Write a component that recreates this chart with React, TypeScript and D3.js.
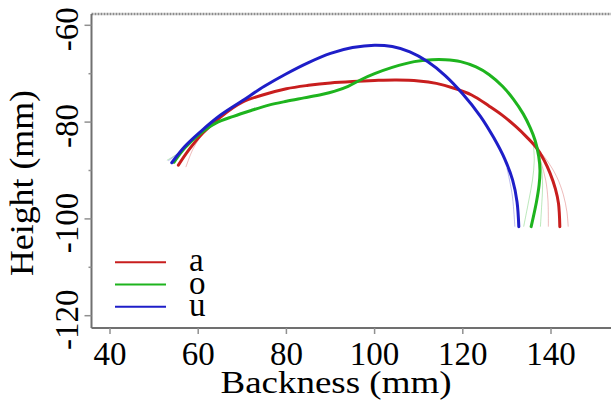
import React, { useEffect, useRef } from "react"
import * as d3 from "d3"

type Pt = [number, number]

const vowels = ["a", "o", "u"]
const colors = ["#c81e1e", "#1eb41e", "#1e1ec8"]

// mean tongue contours, [backness, height] in mm
const aCurve: Pt[] = [
  [55.5, -88.9], [58, -85.6], [61, -82.3], [65, -79], [70, -75.9], [75, -74.3],
  [80, -73.1], [85, -72.4], [90, -71.9], [95, -71.6], [100, -71.4], [105, -71.3],
  [110, -71.5], [114, -72], [118, -73], [122, -74.4], [126, -76.7], [129, -78.6],
  [132, -80.9], [134.5, -83.1], [136.7, -85.3], [138.5, -88], [139.8, -90.6],
  [141, -93.8], [141.7, -96.8], [142, -101.6],
]
const oCurve: Pt[] = [
  [54.5, -88.3], [57, -85.3], [60.4, -82.4], [64, -80.2], [68, -78.8], [72, -77.6],
  [76, -76.5], [80, -75.7], [84, -75], [88, -74.3], [91, -73.6], [94, -72.6],
  [97, -71.2], [100, -70], [104, -68.7], [109, -67.5], [113, -67.1], [116, -67.1],
  [119.5, -67.5], [123, -68.6], [126, -70.2], [129, -72.6], [131.5, -75.3],
  [133.7, -78.3], [135.3, -81.2], [136.4, -83.8], [137.2, -87], [137.5, -90],
  [137.3, -93], [136.7, -96.5], [135.5, -101.6],
]
const uCurve: Pt[] = [
  [54, -88.4], [57, -85], [60.5, -82], [65, -78.6], [70, -75.6], [75, -72.6],
  [80, -70], [85, -67.7], [90, -65.8], [95, -64.6], [100, -64.1], [104, -64.4],
  [108, -65.5], [112, -67.5], [116, -70.4], [120, -74.2], [124, -78.8], [127, -83.2],
  [129.5, -87.6], [131.3, -92], [132.3, -96.5], [132.7, -101.6],
]

// faint confidence traces near the ends of each contour
const aBounds: Pt[][] = [
  [[136.7, -85.3], [139, -87.8], [141.3, -91.3], [142.8, -95], [143.6, -98.5], [143.9, -101.6]],
  [[136.7, -85.3], [137.8, -88.5], [138.8, -92], [139.3, -96], [139.4, -101.6]],
  [[61, -82.3], [58.8, -85.6], [57.2, -89.3]],
]
const oBounds: Pt[][] = [
  [[135.3, -81.2], [136.9, -85], [137.8, -89], [138.1, -93], [137.9, -97], [137.6, -101.6]],
  [[136, -84.5], [136.2, -88], [135.8, -92], [134.9, -96.5], [133.8, -101.6]],
  [[59, -83.5], [55.8, -86.2], [52.9, -87.9]],
]
const uBounds: Pt[][] = [
  [[130, -89.5], [131.2, -95], [131.8, -101.6]],
  [[58, -84], [55.5, -86.4], [53.2, -88]],
]

const curves = [aCurve, oCurve, uCurve]
const bounds = [aBounds, oBounds, uBounds]

const xTicks = [40, 60, 80, 100, 120, 140]
const yTicks = [-60, -80, -100, -120]
const yMinorTicks = [-70, -90, -110]

const serif = "Liberation Serif"

export default function App() {
  const ref = useRef<SVGSVGElement>(null)

  useEffect(() => {
    const svg = d3.select(ref.current)
    svg.selectAll("*").remove()

    const left = 91.5
    const top = 14
    const bottom = 328
    const right = 611

    const x = d3.scaleLinear().domain([40, 140]).range([110, 551])
    const y = d3.scaleLinear().domain([-60, -120]).range([25.3, 315.7])

    const line = d3
      .line<Pt>()
      .x((d) => x(d[0]))
      .y((d) => y(d[1]))
      .curve(d3.curveCatmullRom)

    // frame
    svg
      .append("line")
      .attr("x1", left)
      .attr("x2", right)
      .attr("y1", top)
      .attr("y2", top)
      .attr("stroke", "#8c8c8c")
      .attr("stroke-width", 2.5)
      .attr("stroke-dasharray", "2,1")
    svg
      .append("line")
      .attr("x1", left)
      .attr("x2", left)
      .attr("y1", top)
      .attr("y2", bottom)
      .attr("stroke", "#707070")
      .attr("stroke-width", 2)
    svg
      .append("line")
      .attr("x1", left)
      .attr("x2", right)
      .attr("y1", bottom)
      .attr("y2", bottom)
      .attr("stroke", "#707070")
      .attr("stroke-width", 2)

    // y ticks
    svg
      .selectAll(".ytick")
      .data(yTicks)
      .enter()
      .append("line")
      .attr("x1", left - 7)
      .attr("x2", left)
      .attr("y1", (d) => y(d))
      .attr("y2", (d) => y(d))
      .attr("stroke", "#909090")
      .attr("stroke-width", 1.5)
    svg
      .selectAll(".yminor")
      .data(yMinorTicks)
      .enter()
      .append("line")
      .attr("x1", left - 3)
      .attr("x2", left)
      .attr("y1", (d) => y(d))
      .attr("y2", (d) => y(d))
      .attr("stroke", "#909090")
      .attr("stroke-width", 1.5)
    svg
      .selectAll(".ylab")
      .data(yTicks)
      .enter()
      .append("text")
      .attr("transform", (d) => `translate(78,${y(d) + 4}) rotate(-90)`)
      .attr("text-anchor", "middle")
      .attr("font-family", serif)
      .attr("font-size", 33)
      .attr("fill", "#000")
      .text((d) => String(d))

    // x ticks
    svg
      .selectAll(".xtick")
      .data(xTicks)
      .enter()
      .append("line")
      .attr("x1", (d) => x(d))
      .attr("x2", (d) => x(d))
      .attr("y1", bottom)
      .attr("y2", bottom + 6)
      .attr("stroke", "#909090")
      .attr("stroke-width", 1.5)
    svg
      .selectAll(".xlab")
      .data(xTicks)
      .enter()
      .append("text")
      .attr("x", (d) => x(d))
      .attr("y", 365)
      .attr("text-anchor", "middle")
      .attr("font-family", serif)
      .attr("font-size", 33)
      .attr("fill", "#000")
      .text((d) => String(d))

    // axis titles
    svg
      .append("text")
      .attr("x", 336)
      .attr("y", 393)
      .attr("text-anchor", "middle")
      .attr("textLength", 231)
      .attr("lengthAdjust", "spacingAndGlyphs")
      .attr("font-family", serif)
      .attr("font-size", 32)
      .attr("fill", "#000")
      .text("Backness (mm)")
    svg
      .append("text")
      .attr("transform", "translate(33,183) rotate(-90)")
      .attr("text-anchor", "middle")
      .attr("textLength", 186)
      .attr("lengthAdjust", "spacingAndGlyphs")
      .attr("font-family", serif)
      .attr("font-size", 34)
      .attr("fill", "#000")
      .text("Height (mm)")

    // faint traces
    bounds.forEach((set, i) => {
      svg
        .selectAll(".bound" + i)
        .data(set)
        .enter()
        .append("path")
        .attr("d", (d) => line(d))
        .attr("fill", "none")
        .attr("stroke", colors[i])
        .attr("stroke-width", 1)
        .attr("stroke-opacity", 0.3)
    })

    // mean contours
    svg
      .selectAll(".contour")
      .data(curves)
      .enter()
      .append("path")
      .attr("d", (d) => line(d))
      .attr("fill", "none")
      .attr("stroke", (d, i) => colors[i])
      .attr("stroke-width", 3)
      .attr("stroke-linecap", "round")

    // legend
    const legend = svg
      .selectAll(".legend")
      .data(vowels)
      .enter()
      .append("g")
      .attr("transform", (d, i) => `translate(0,${262.3 + i * 22.2})`)
    legend
      .append("line")
      .attr("x1", 115)
      .attr("x2", 166)
      .attr("stroke", (d, i) => colors[i])
      .attr("stroke-width", 2)
    legend
      .append("text")
      .attr("x", 189)
      .attr("y", 9)
      .attr("font-family", serif)
      .attr("font-size", 33)
      .attr("fill", "#000")
      .text((d) => d)
  }, [])

  return (
    <svg
      ref={ref}
      width={611}
      height={401}
      style={{ position: "absolute", left: 0, top: 0, background: "#fff" }}
    />
  )
}
